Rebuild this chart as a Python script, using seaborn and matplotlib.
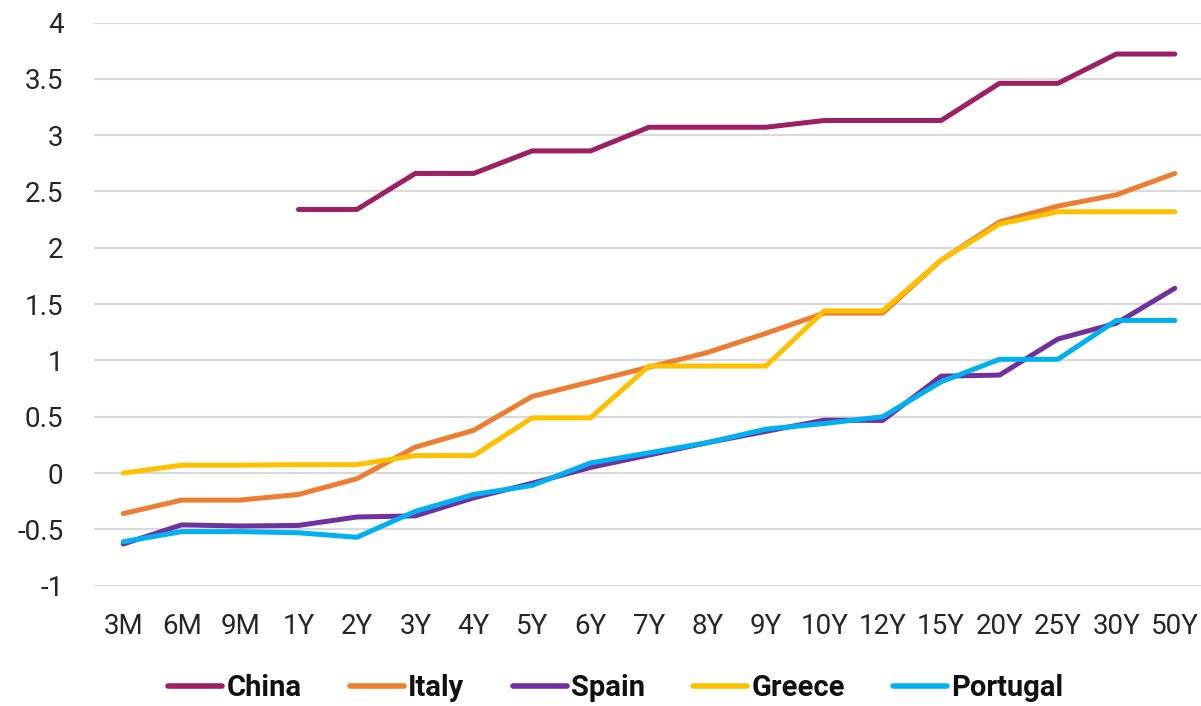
import numpy as np
import pandas as pd
import matplotlib
matplotlib.use('Agg')
import matplotlib.pyplot as plt
import seaborn as sns

# tenors on the x axis
tenors = ['3M', '6M', '9M', '1Y', '2Y', '3Y', '4Y', '5Y', '6Y', '7Y',
          '8Y', '9Y', '10Y', '12Y', '15Y', '20Y', '25Y', '30Y', '50Y']

# yields (%)
china = [np.nan, np.nan, np.nan, 2.34, 2.34, 2.66, 2.66, 2.86, 2.86, 3.07,
         3.07, 3.07, 3.13, 3.13, 3.13, 3.46, 3.46, 3.72, 3.72]
italy = [-0.36, -0.24, -0.24, -0.19, -0.05, 0.23, 0.38, 0.68, 0.81, 0.94,
         1.07, 1.24, 1.42, 1.42, 1.89, 2.23, 2.37, 2.47, 2.66]
spain = [-0.63, -0.46, -0.47, -0.465, -0.39, -0.38, -0.22, -0.09, 0.05, 0.16,
         0.27, 0.37, 0.47, 0.467, 0.86, 0.87, 1.19, 1.33, 1.64]
greece = [0.0, 0.07, 0.07, 0.075, 0.075, 0.155, 0.155, 0.49, 0.49, 0.95,
          0.95, 0.95, 1.44, 1.44, 1.89, 2.21, 2.32, 2.32, 2.32]
portugal = [-0.61, -0.52, -0.52, -0.53, -0.57, -0.34, -0.19, -0.11, 0.09, 0.18,
            0.27, 0.39, 0.44, 0.50, 0.81, 1.01, 1.01, 1.355, 1.355]

countries = ['China', 'Italy', 'Spain', 'Greece', 'Portugal']
colors = ['#9E1F63', '#ED7D31', '#7030A0', '#FFC000', '#00B0F0']

series = dict(zip(countries, [china, italy, spain, greece, portugal]))
rows = []
for c in countries:
    for i, v in enumerate(series[c]):
        rows.append({'pos': i, 'tenor': tenors[i], 'country': c, 'yield': v})
df = pd.DataFrame(rows).dropna()

sns.set_style('white')
plt.rcParams['font.family'] = ['Roboto', 'DejaVu Sans']

fig = plt.figure(figsize=(12.01, 7.06), dpi=100)
ax = fig.add_axes([94 / 1201, 1 - 585.7 / 706, 1110 / 1201, (585.7 - 22.5) / 706])

sns.lineplot(data=df, x='pos', y='yield', hue='country', hue_order=countries,
             palette=colors, linewidth=3.6, sort=False, ax=ax)
for ln in ax.get_lines():
    ln.set_solid_capstyle('round')
    ln.set_clip_on(False)

ax.set_xlim(-0.5, len(tenors) - 0.5)
ax.set_ylim(-1, 4)
ax.set_yticks(np.arange(-1, 4.01, 0.5))
ax.set_yticklabels(['-1', '-0.5', '0', '0.5', '1', '1.5', '2', '2.5', '3', '3.5', '4'])
ax.set_xticks(range(len(tenors)))
ax.set_xticklabels(tenors)
ax.set_xlabel('')
ax.set_ylabel('')
ax.grid(axis='y', color='#D9D9D9', linewidth=1.5)
ax.set_axisbelow(True)
for s in ax.spines.values():
    s.set_visible(False)
ax.tick_params(axis='both', length=0, labelsize=20, colors='#262626')
ax.tick_params(axis='y', pad=22)
ax.tick_params(axis='x', pad=20)

handles, labels = ax.get_legend_handles_labels()
ax.legend_.remove()
leg = fig.legend(handles, labels, loc='center', ncol=5, frameon=False,
                 bbox_to_anchor=(616 / 1201, 1 - 688 / 706),
                 prop={'size': 21, 'weight': 'bold'},
                 handlelength=1.85, handletextpad=0.15, columnspacing=1.65)
for h in leg.get_lines():
    h.set_linewidth(4)
    h.set_solid_capstyle('round')
for t in leg.get_texts():
    t.set_color('#111111')

fig.savefig('out.png', dpi=100)
